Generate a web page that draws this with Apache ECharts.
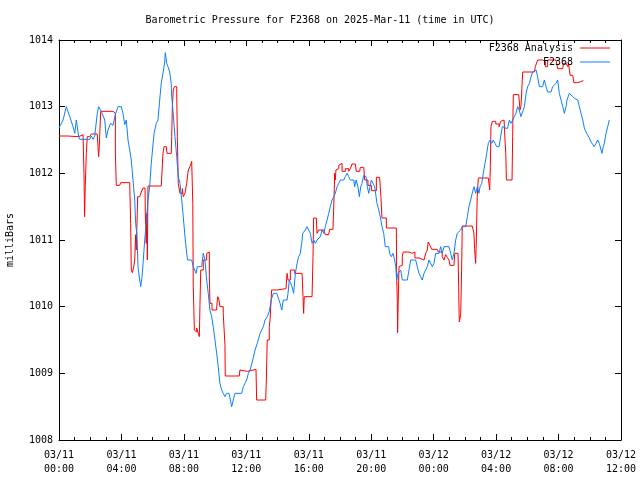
<!DOCTYPE html>
<html><head><meta charset="utf-8">
<script src="https://cdn.jsdelivr.net/npm/echarts@6/dist/echarts.min.js"></script>
<style>html,body{margin:0;padding:0;background:#fff}#c{width:640px;height:480px}</style>
</head><body><div id="c"></div>
<script>
// hours since 2025-03-11 00:00 UTC
const stationHours = [0,0.26,0.47,0.69,0.90,1.01,1.11,1.26,1.33,1.97,2.07,2.18,2.29,2.37,2.45,2.54,2.71,2.93,3.03,3.14,3.31,3.46,3.61,3.78,3.99,4.10,4.21,4.31,4.42,4.53,4.63,4.74,4.85,4.91,5.00,5.06,5.17,5.23,5.32,5.40,5.49,5.59,5.70,5.81,5.91,6.09,6.23,6.34,6.45,6.55,6.66,6.77,6.81,6.90,6.98,7.09,7.19,7.22,7.28,7.43,7.54,7.64,7.75,7.86,7.96,8.07,8.18,8.24,8.50,8.60,8.78,8.86,9.14,9.24,9.35,9.46,9.56,9.67,9.78,9.88,9.99,10.10,10.20,10.31,10.42,10.52,10.63,10.74,10.89,11.06,11.17,11.27,11.70,11.81,11.91,12.02,12.13,12.24,12.41,12.56,12.70,12.88,13.09,13.20,13.34,13.47,13.56,13.62,13.73,13.95,14.05,14.16,14.27,14.37,14.61,14.67,14.75,14.93,15.03,15.14,15.25,15.35,15.46,15.57,15.61,15.78,15.88,15.99,16.10,16.21,16.32,16.42,16.53,16.74,16.85,16.96,17.06,17.17,17.28,17.38,17.49,17.60,17.70,17.81,17.92,18.02,18.24,18.34,18.45,18.56,18.66,18.88,18.94,19.03,19.15,19.24,19.33,19.41,19.52,19.58,19.67,19.75,19.84,19.92,20.01,20.13,20.22,20.31,20.37,20.48,20.58,20.69,20.80,20.90,21.12,21.18,21.29,21.40,21.50,21.57,21.63,21.72,21.89,21.99,22.31,22.42,22.53,22.85,22.95,23.06,23.17,23.27,23.38,23.49,23.59,23.70,23.81,23.91,24.02,24.13,24.34,24.45,24.55,24.66,24.98,25.09,25.19,25.30,25.41,25.51,25.73,25.83,26.05,26.16,26.26,26.37,26.47,26.58,26.69,26.80,26.90,26.97,27.08,27.18,27.29,27.40,27.50,27.61,27.72,27.82,27.93,28.04,28.19,28.29,28.40,28.51,28.72,28.85,28.95,29.06,29.17,29.27,29.38,29.48,29.59,29.70,29.81,29.92,30.02,30.13,30.24,30.34,30.45,30.56,30.66,30.77,30.98,31.09,31.20,31.30,31.52,31.62,31.84,31.94,32.05,32.16,32.27,32.37,32.48,32.54,32.69,32.80,32.91,33.05,33.23,33.33,33.44,33.55,33.65,33.76,33.87,33.97,34.08,34.19,34.29,34.40,34.51,34.61,34.72,34.78,34.86,34.93,35.04,35.15,35.25];
const stationValues = [1012.68,1012.80,1013.00,1012.85,1012.70,1012.60,1012.80,1012.55,1012.51,1012.51,1012.56,1012.51,1012.56,1012.58,1012.90,1013.00,1012.93,1012.80,1012.53,1012.65,1012.75,1012.72,1012.88,1013.00,1013.00,1012.90,1012.73,1012.80,1012.50,1012.35,1012.20,1011.90,1011.60,1011.25,1011.05,1010.60,1010.40,1010.30,1010.45,1010.70,1011.00,1011.25,1011.60,1011.80,1012.15,1012.60,1012.75,1012.80,1013.10,1013.35,1013.50,1013.67,1013.81,1013.65,1013.60,1013.52,1013.35,1013.15,1013.00,1012.55,1012.25,1011.95,1011.85,1011.60,1011.35,1011.05,1010.80,1010.70,1010.70,1010.60,1010.50,1010.60,1010.60,1010.80,1010.70,1010.40,1010.20,1009.95,1009.85,1009.70,1009.50,1009.30,1009.10,1008.85,1008.75,1008.70,1008.65,1008.70,1008.70,1008.50,1008.50,1008.70,1008.70,1008.80,1008.85,1008.90,1009.00,1009.05,1009.20,1009.35,1009.45,1009.60,1009.70,1009.80,1009.85,1009.93,1010.05,1010.12,1010.20,1010.20,1010.18,1010.05,1009.95,1010.10,1010.10,1010.20,1010.40,1010.30,1010.20,1010.50,1010.65,1010.75,1010.80,1011.00,1011.10,1011.15,1011.20,1011.15,1011.10,1010.95,1011.00,1010.95,1011.00,1011.05,1011.15,1011.10,1011.20,1011.30,1011.40,1011.50,1011.60,1011.65,1011.70,1011.80,1011.85,1011.90,1011.90,1011.95,1012.00,1011.95,1011.90,1011.90,1011.80,1011.90,1011.80,1011.65,1011.80,1011.85,1011.97,1012.00,1011.95,1011.80,1011.70,1011.80,1011.90,1011.90,1011.80,1011.65,1011.55,1011.45,1011.35,1011.20,1011.10,1010.90,1010.90,1010.80,1010.75,1010.80,1010.70,1010.60,1010.40,1010.50,1010.55,1010.40,1010.40,1010.55,1010.70,1010.70,1010.60,1010.50,1010.45,1010.40,1010.50,1010.50,1010.60,1010.70,1010.70,1010.60,1010.65,1010.80,1010.80,1010.90,1010.80,1010.90,1010.90,1010.80,1010.70,1010.80,1011.00,1011.10,1011.15,1011.20,1011.20,1011.35,1011.50,1011.60,1011.70,1011.80,1011.70,1011.80,1011.70,1011.80,1011.85,1012.00,1012.15,1012.30,1012.45,1012.50,1012.45,1012.50,1012.45,1012.40,1012.40,1012.55,1012.70,1012.68,1012.67,1012.80,1012.75,1012.80,1012.85,1012.90,1013.00,1012.95,1012.85,1012.85,1013.00,1013.20,1013.30,1013.35,1013.45,1013.52,1013.50,1013.55,1013.45,1013.30,1013.30,1013.40,1013.30,1013.22,1013.22,1013.30,1013.35,1013.40,1013.20,1013.10,1013.00,1012.90,1013.00,1013.10,1013.20,1013.20,1013.15,1013.12,1013.10,1013.10,1012.90,1012.80,1012.68,1012.62,1012.57,1012.53,1012.47,1012.45,1012.40,1012.45,1012.50,1012.45,1012.35,1012.30,1012.40,1012.45,1012.60,1012.70,1012.80];
const analysisHours = [0,0.53,0.58,1.26,1.28,1.54,1.60,1.64,1.68,1.75,1.81,1.97,2.07,2.45,2.50,2.54,2.58,2.67,3.46,3.52,3.61,3.67,3.89,3.95,4.53,4.59,4.63,4.70,4.79,4.85,4.91,4.95,5.04,5.17,5.27,5.38,5.51,5.53,5.59,5.62,5.66,5.70,6.55,6.60,6.66,6.73,6.87,6.92,7.19,7.22,7.26,7.32,7.39,7.49,7.54,7.58,7.64,7.75,7.90,7.96,8.07,8.18,8.28,8.39,8.50,8.57,8.60,8.67,8.76,8.82,8.92,8.99,9.03,9.08,9.24,9.46,9.56,9.63,9.67,9.80,10.10,10.17,10.25,10.31,10.52,10.63,10.65,11.55,11.59,11.70,12.06,12.62,12.66,13.24,13.28,13.34,13.47,13.52,13.62,13.94,14.54,14.61,14.67,14.82,15.10,15.57,15.63,15.67,15.71,16.21,16.27,16.31,16.48,16.53,16.63,16.96,17.06,17.27,17.34,17.55,17.62,17.66,17.70,17.74,17.81,17.92,18.02,18.13,18.34,18.56,18.66,18.77,18.98,19.04,19.26,19.30,19.52,19.58,19.79,20.01,20.33,20.54,20.62,20.69,20.97,21.61,21.63,21.67,21.69,21.73,21.78,21.89,21.99,22.05,22.42,22.63,22.74,22.80,23.06,23.38,23.49,23.59,23.65,23.76,23.87,24.23,24.30,24.55,24.66,24.77,24.87,24.98,25.05,25.30,25.35,25.56,25.60,25.64,25.73,25.79,25.83,26.47,26.58,26.62,26.69,26.73,26.79,26.86,27.50,27.54,27.59,27.63,27.67,27.76,27.98,28.19,28.29,28.40,28.51,28.57,28.62,28.66,29.02,29.06,29.10,29.45,29.53,29.59,29.64,29.70,30.45,30.51,30.62,30.66,30.98,31.09,31.15,31.30,31.84,31.94,32.27,32.31,32.48,32.59,32.64,32.74,32.91,32.98,33.23,33.29,33.59];
const analysisValues = [1012.56,1012.53,1012.55,1012.55,1012.58,1012.60,1012.00,1011.35,1011.80,1012.30,1012.55,1012.55,1012.59,1012.59,1012.40,1012.25,1012.40,1012.93,1012.93,1012.90,1012.32,1011.82,1011.82,1011.86,1011.86,1011.25,1010.55,1010.51,1010.60,1010.70,1011.08,1010.85,1011.65,1011.68,1011.72,1011.78,1011.78,1011.40,1010.95,1011.40,1010.70,1011.81,1011.81,1012.03,1012.30,1012.40,1012.40,1012.30,1012.30,1012.55,1013.00,1013.25,1013.30,1013.30,1013.20,1012.55,1011.85,1011.70,1011.77,1011.65,1011.70,1011.85,1012.05,1012.10,1012.18,1011.55,1010.30,1009.65,1009.62,1009.68,1009.60,1009.55,1010.02,1010.55,1010.70,1010.80,1010.82,1010.45,1010.05,1009.95,1010.00,1010.15,1010.10,1010.00,1009.90,1009.43,1008.96,1008.96,1009.05,1009.03,1009.06,1009.06,1008.60,1008.60,1008.90,1009.50,1009.70,1009.80,1010.25,1010.27,1010.28,1010.50,1010.40,1010.55,1010.50,1010.50,1010.15,1009.90,1010.15,1010.15,1010.75,1011.33,1011.33,1011.10,1011.15,1011.15,1011.08,1011.08,1011.16,1011.16,1011.65,1012.00,1011.90,1012.05,1012.07,1012.12,1012.15,1012.03,1012.07,1012.03,1012.07,1012.14,1012.14,1012.03,1012.03,1012.09,1012.09,1011.90,1011.82,1011.74,1011.94,1011.94,1011.65,1011.33,1011.18,1011.21,1010.45,1010.10,1009.61,1010.10,1010.60,1010.62,1010.75,1010.82,1010.80,1010.80,1010.82,1010.73,1010.70,1010.70,1010.80,1010.85,1010.97,1010.92,1010.86,1010.86,1010.82,1010.75,1010.70,1010.78,1010.74,1010.70,1010.62,1010.62,1010.80,1010.80,1010.30,1009.77,1009.88,1010.55,1011.21,1011.21,1011.10,1010.87,1010.65,1010.97,1011.65,1011.93,1011.93,1011.85,1011.75,1012.10,1012.70,1012.78,1012.74,1012.70,1012.78,1012.80,1012.78,1012.50,1012.30,1011.90,1011.90,1012.55,1013.18,1013.15,1012.95,1013.00,1013.22,1013.52,1013.52,1013.60,1013.62,1013.70,1013.70,1013.68,1013.60,1013.70,1013.70,1013.57,1013.57,1013.65,1013.65,1013.60,1013.65,1013.47,1013.47,1013.36,1013.36,1013.39,1013.39];
const xTicks = [0,4,8,12,16,20,24,28,32,36];
const yTicks = [1008,1009,1010,1011,1012,1013,1014];
const titleText = 'Barometric Pressure for F2368 on 2025-Mar-11 (time in UTC)';

const FONT = 'DejaVu Sans Mono';
const pad = n => (n < 10 ? '0' : '') + n;
const zip = (a, b) => a.map((v, i) => [v, b[i]]);
const chart = echarts.init(document.getElementById('c'), null, {renderer: 'canvas'});
const tickStyle = {show: true, inside: true, length: 6, lineStyle: {color: '#000'}};
const axisLine = {show: true, onZero: false, lineStyle: {color: '#000', width: 1}};
chart.setOption({
  animation: false,
  backgroundColor: '#fff',
  title: {text: titleText, left: 'center', top: 10,
    textStyle: {fontFamily: FONT, fontSize: 10, fontWeight: 'normal', color: '#000'}},
  legend: {orient: 'vertical', right: 30, top: 43, padding: 0, align: 'right', itemGap: 4,
    itemWidth: 30, itemHeight: 10, icon: 'path://M0,5L30,5L30,6L0,6Z',
    textStyle: {fontFamily: FONT, fontSize: 10, color: '#000', padding: [0, 2, 0, 0]},
    data: ['F2368 Analysis', 'F2368']},
  grid: {left: 59, right: 19, top: 40, bottom: 40, show: false, containLabel: false, outerBoundsMode: 'none'},
  xAxis: [{
    type: 'value', min: xTicks[0], max: xTicks[xTicks.length - 1], interval: 4,
    axisLine, axisTick: tickStyle, splitLine: {show: false},
    minorTick: {show: true, splitNumber: 4, length: 3, lineStyle: {color: '#000'}},
    axisLabel: {fontFamily: FONT, fontSize: 10, color: '#000', margin: 8, lineHeight: 14,
      formatter: v => (v < 24 ? '03/11' : '03/12') + '\n' + pad(v % 24) + ':00'}
  }, {
    type: 'value', position: 'top', min: 0, max: 36, interval: 4,
    axisLine, axisTick: tickStyle, axisLabel: {show: false}, splitLine: {show: false},
    minorTick: {show: true, splitNumber: 4, length: 3, lineStyle: {color: '#000'}}
  }],
  yAxis: [{
    type: 'value', min: yTicks[0], max: yTicks[yTicks.length - 1], interval: 1,
    axisLine, axisTick: tickStyle, splitLine: {show: false},
    axisLabel: {fontFamily: FONT, fontSize: 10, color: '#000', margin: 6, formatter: v => String(v)},
    name: 'milliBars', nameLocation: 'middle', nameRotate: 90, nameGap: 44,
    nameTextStyle: {fontFamily: FONT, fontSize: 10, color: '#000'}
  }, {
    type: 'value', position: 'right', min: 1008, max: 1014, interval: 1,
    axisLine, axisTick: tickStyle, axisLabel: {show: false}, splitLine: {show: false}
  }],
  series: [{
    name: 'F2368 Analysis', type: 'line', step: 'end', symbol: 'none',
    data: zip(analysisHours, analysisValues),
    lineStyle: {color: '#ff0000', width: 1}, itemStyle: {color: '#ff0000'}
  }, {
    name: 'F2368', type: 'line', symbol: 'none',
    data: zip(stationHours, stationValues),
    lineStyle: {color: '#0a80ff', width: 1}, itemStyle: {color: '#0a80ff'}
  }]
});
</script></body></html>
